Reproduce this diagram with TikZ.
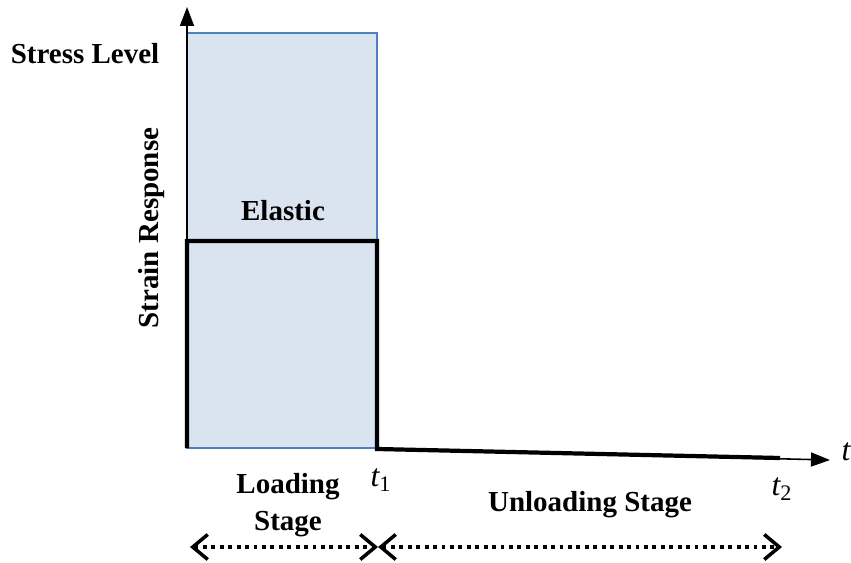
\documentclass[tikz,border=0pt]{standalone}
\usepackage{fontspec}
\setmainfont{Liberation Serif}
\usetikzlibrary{arrows.meta,positioning}
\definecolor{elasticfill}{HTML}{DAE3F0}
\definecolor{elasticedge}{HTML}{4F81BD}
\tikzset{
	axis/.style={-{Triangle[length=3.8mm,width=2.8mm]}, line width=0.9pt},
	zone/.style={draw=elasticedge, fill=elasticfill, line width=1pt},
	strain/.style={line width=2.4pt, line join=miter},
	textlabel/.style={font=\fontsize{16.5}{21}\selectfont\bfseries, align=center},
	timemark/.style={font=\fontsize{18}{20}\selectfont\itshape},
	stage/.style={{Straight Barb[length=3mm,width=5mm,line width=2pt]}-{Straight Barb[length=3mm,width=5mm,line width=2pt]}, line width=2.2pt, dash pattern=on 2.2pt off 2.6pt}
}

\begin{document}
\begin{tikzpicture}[x=0.02cm, y=-0.02cm]
	\useasboundingbox (0,0) rectangle (851,563);
	% points on the axes
	\coordinate (origin) at (187,448);
	\coordinate (ytip) at (187,7);
	\coordinate (t1) at (377,449);
	\coordinate (t2) at (780,458);
	\coordinate (xtip) at (830,460);
	% loading zone
	\draw[zone] (origin) rectangle (377,33);
	\draw[axis] (origin) -- (ytip);
	\draw[axis] (t1) -- (xtip);
	\draw[strain] (origin) -- (187,241) -- (377,241) -- (t1) -- (t2);
	\node[textlabel] (elastic) at (283,211) {Elastic};
	\node[textlabel] (stress) at (85,54) {Stress Level};
	\node[textlabel, rotate=90] (response) at (152,228) {Strain Response};
	\node[timemark] (t) at (846,452) {t};
	\node[timemark] (t1lab) at (381,480) {t\textsubscript{\normalfont 1}};
	\node[timemark] (t2lab) at (782,489) {t\textsubscript{\normalfont 2}};
	\node[textlabel] (loading) at (288,505) {Loading\\Stage};
	\node[textlabel] (unloading) at (590,505) {Unloading Stage};
	% stage spans
	\coordinate (sA) at (190,547);
	\coordinate (sB) at (378,547);
	\coordinate (sC) at (782,547);
	\draw[stage] (sA) -- (sB);
	\draw[stage] (sB) -- (sC);
\end{tikzpicture}
\end{document}
